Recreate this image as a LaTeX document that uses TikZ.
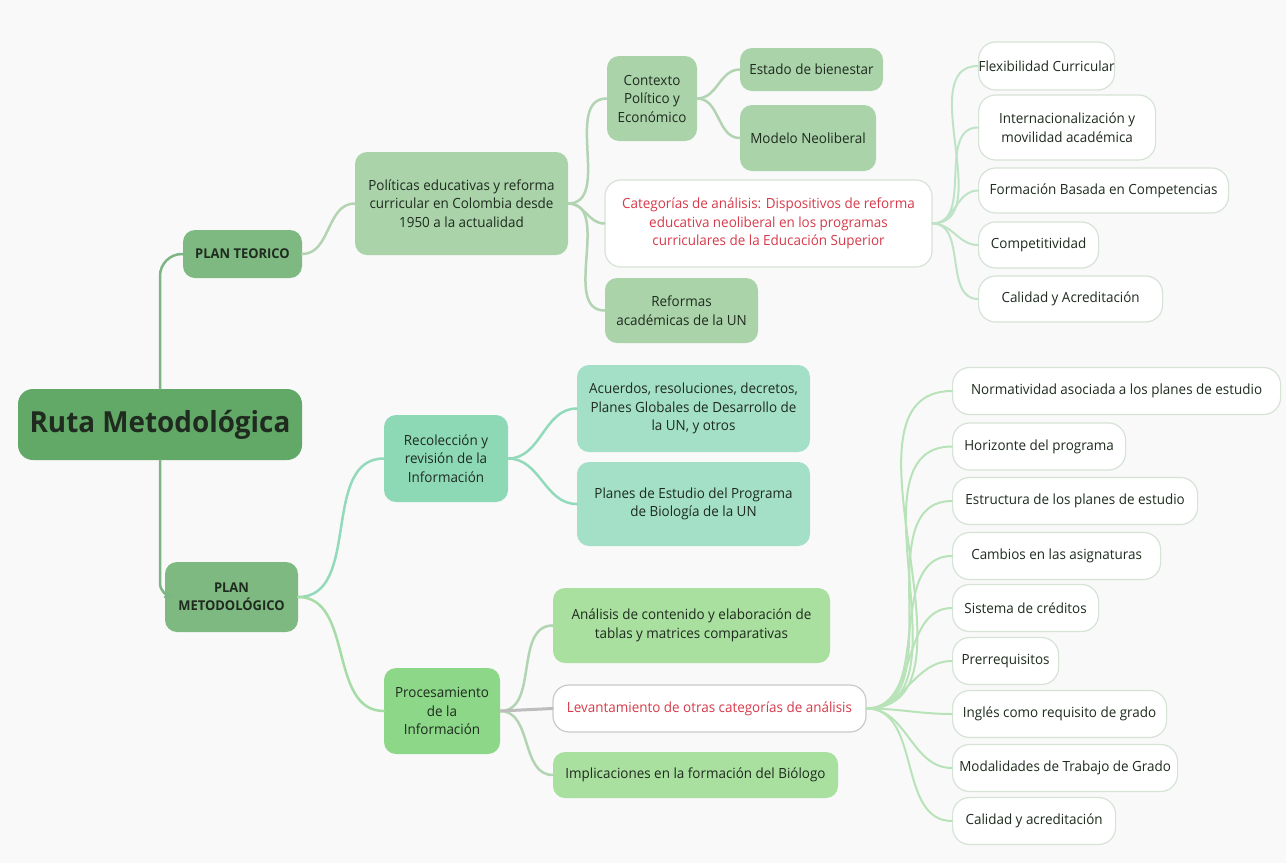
\documentclass[tikz,border=0pt]{standalone}
\usepackage{fontspec}
\setmainfont{Open Sans}[FakeStretch=0.96]
\definecolor{bgpaper}{HTML}{F9F9F9}
\definecolor{rootgreen}{HTML}{62A867}
\definecolor{plangreen}{HTML}{7DB980}
\definecolor{sagegreen}{HTML}{AAD3AA}
\definecolor{mintdark}{HTML}{8DD9B6}
\definecolor{mintlight}{HTML}{A3E0C7}
\definecolor{leafdark}{HTML}{8CD788}
\definecolor{leaflight}{HTML}{A9DF9F}
\definecolor{inkdark}{HTML}{1F2B1F}
\definecolor{inkred}{HTML}{D63A4A}
\definecolor{edgegray}{HTML}{D6E3D6}
\definecolor{linkroot}{HTML}{7DB585}
\definecolor{linksage}{HTML}{B3D4B3}
\definecolor{linkmint}{HTML}{92DABB}
\definecolor{linkleaf}{HTML}{A6DCA6}
\definecolor{linkpale}{HTML}{BFE3C6}
\definecolor{linkgray}{HTML}{BDBDBD}
\begin{document}
\begin{tikzpicture}[x=1pt,y=-1pt,
  box/.style={rounded corners=12pt, inner sep=0pt, align=center, text=inkdark,
    font=\fontsize{14}{18.5}\selectfont},
  rootbox/.style={box, fill=rootgreen, rounded corners=15pt, font=\bfseries\fontsize{29}{34}\selectfont},
  planbox/.style={box, fill=plangreen, font=\bfseries\fontsize{13.5}{18}\selectfont},
  sagebox/.style={box, fill=sagegreen},
  mintbox/.style={box, fill=mintlight},
  leafbox/.style={box, fill=leaflight},
  catbox/.style={box, fill=white, draw=edgegray, line width=1.2pt, rounded corners=16pt, text=inkred},
  item/.style={box, fill=white, draw=edgegray, line width=1.2pt, rounded corners=17pt,
    anchor=west, minimum height=47pt},
  link/.style={line width=2.5pt, line cap=round},
]
\useasboundingbox[fill=bgpaper] (0,0) rectangle (1286,863);

\node[rootbox, minimum width=284pt, minimum height=71pt] (root) at (160,424.5) {Ruta Metodológica};
\node[planbox, minimum width=119pt, minimum height=48pt] (pt) at (242.5,254) {PLAN TEORICO};
\node[planbox, minimum width=133pt, minimum height=70pt] (pm) at (231.5,597) {PLAN\\METODOLÓGICO};

\node[sagebox, minimum width=213pt, minimum height=103pt] (pol) at (461.5,203.5) {Políticas educativas y reforma\\curricular en Colombia desde\\1950 a la actualidad};
\node[sagebox, minimum width=90pt, minimum height=85pt] (ctx) at (652,98.5) {Contexto\\Político y\\Económico};
\node[sagebox, minimum width=143pt, minimum height=43pt] (est) at (811.5,69.5) {Estado de bienestar};
\node[sagebox, minimum width=136pt, minimum height=66pt] (neo) at (808,138) {Modelo Neoliberal};
\node[catbox, minimum width=327pt, minimum height=87pt] (cat) at (768.5,223.5) {Categorías de análisis: Dispositivos de reforma\\educativa neoliberal en los programas\\curriculares de la Educación Superior};
\node[sagebox, minimum width=153pt, minimum height=65pt] (ref) at (681.5,310.5) {Reformas\\académicas de la UN};

\node[item, minimum width=134pt, minimum height=48pt] (flex) at (978,66) {Flexibilidad Curricular};
\node[item, minimum width=177pt, minimum height=65pt] (intl) at (978,127.5) {Internacionalización y\\movilidad académica};
\node[item, minimum width=250pt, minimum height=45pt] (comp) at (978,190.5) {Formación Basada en Competencias};
\node[item, minimum width=120pt, minimum height=46pt] (cpt) at (978,245) {Competitividad};
\node[item, minimum width=184pt, minimum height=46pt] (cal) at (978,299) {Calidad y Acreditación};

\node[box, fill=mintdark, minimum width=124pt, minimum height=87pt] (rec) at (446,458.5) {Recolección y\\revisión de la\\Información};
\node[mintbox, minimum width=233pt, minimum height=87pt] (acu) at (693.5,408.5) {Acuerdos, resoluciones, decretos,\\Planes Globales de Desarrollo de\\la UN, y otros};
\node[mintbox, minimum width=233pt, minimum height=84pt] (pla) at (693.5,504) {Planes de Estudio del Programa\\de Biología de la UN};

\node[box, fill=leafdark, minimum width=116pt, minimum height=86pt] (pro) at (442,711) {Procesamiento\\de la\\Información};
\node[leafbox, minimum width=277pt, minimum height=75pt] (ana) at (691.5,625.5) {Análisis de contenido y elaboración de\\tablas y matrices comparativas};
\node[catbox, draw=linkgray!80, minimum width=313pt, minimum height=47pt] (lev) at (709.5,708.5) {Levantamiento de otras categorías de análisis};
\node[leafbox, minimum width=285pt, minimum height=46pt] (imp) at (695.5,775) {Implicaciones en la formación del Biólogo};

\node[item, minimum width=328pt] (nor) at (952,391) {Normatividad asociada a los planes de estudio};
\node[item, minimum width=173pt] (hor) at (952,446.5) {Horizonte del programa};
\node[item, minimum width=245pt] (estr) at (952,501) {Estructura de los planes de estudio};
\node[item, minimum width=208pt] (cam) at (952,556) {Cambios en las asignaturas};
\node[item, minimum width=146pt] (sis) at (952,608) {Sistema de créditos};
\node[item, minimum width=106pt] (pre) at (952,661) {Prerrequisitos};
\node[item, minimum width=214pt] (ing) at (952,714) {Inglés como requisito de grado};
\node[item, minimum width=225pt] (mod) at (952,768) {Modalidades de Trabajo de Grado};
\node[item, minimum width=163pt] (cali) at (952,821) {Calidad y acreditación};

\draw[link, linkroot, rounded corners=22pt] (root.north) |- (pt.west);
\draw[link, linkroot, rounded corners=14pt] (root.south) |- (pm.west);

\draw[link, linksage] (pt.east) to[out=0,in=180] (pol.west);
\foreach \t in {ctx,cat,ref}
  \draw[link, linksage] (pol.east) to[out=0,in=180] (\t.west);
\foreach \t in {est,neo}
  \draw[link, linksage] (ctx.east) to[out=0,in=180] (\t.west);
\foreach \t in {flex,intl,comp,cpt,cal}
  \draw[link, linkpale, line width=2pt] (cat.east) to[out=0,in=180] (\t.west);

\draw[link, linkmint] (pm.east) to[out=0,in=180] (rec.west);
\draw[link, linkleaf] (pm.east) to[out=0,in=180] (pro.west);
\foreach \t in {acu,pla}
  \draw[link, linkmint] (rec.east) to[out=0,in=180] (\t.west);
\foreach \t in {ana,imp}
  \draw[link, linksage] (pro.east) to[out=0,in=180] (\t.west);
\draw[link, linkgray, line width=3pt] (pro.east) -- (lev.west);
\foreach \t in {nor,hor,estr,cam,sis,pre,ing,mod,cali}
  \draw[link, linkleaf!80, line width=2pt] (lev.east) to[out=0,in=180] (\t.west);

\end{tikzpicture}
\end{document}
